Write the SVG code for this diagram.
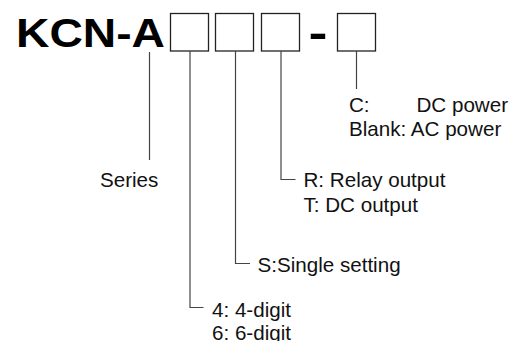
<svg xmlns="http://www.w3.org/2000/svg" width="513" height="341" viewBox="0 0 513 341">
<style>
.t{font-family:"Liberation Sans",Arial,sans-serif;font-size:20.6px;fill:#111}
.b{font-family:"Liberation Sans",Arial,sans-serif;font-weight:bold;fill:#000}
.box{fill:#fff;stroke:#222;stroke-width:1.3}
.ln{fill:none;stroke:#444;stroke-width:1.2}
</style>
<rect width="513" height="341" fill="#fff"/>
<g id="title">
<text class="b" x="16" y="46.7" font-size="41" textLength="149" lengthAdjust="spacingAndGlyphs">KCN-A</text>
<text class="b" x="308.5" y="47.5" font-size="44" textLength="19" lengthAdjust="spacingAndGlyphs">-</text>
</g>
<g id="box1"><rect class="box" x="170.5" y="13.5" width="38" height="37.5"/></g>
<g id="box2"><rect class="box" x="215.5" y="13.5" width="38" height="37.5"/></g>
<g id="box3"><rect class="box" x="261.5" y="13.5" width="38" height="37.5"/></g>
<g id="box4"><rect class="box" x="337.5" y="13.5" width="38" height="37.5"/></g>
<g id="connectors">
<path class="ln" d="M149.5 52V160"/>
<path class="ln" d="M190 51V307.5H203.5"/>
<path class="ln" d="M235.5 51V263.5H250"/>
<path class="ln" d="M281 51V179.5H295.5"/>
<path class="ln" d="M356.5 51V89"/>
</g>
<g id="series"><text class="t" x="100" y="187.3">Series</text></g>
<g id="output">
<text class="t" x="303.5" y="187.3">R: Relay output</text>
<text class="t" x="303.5" y="212">T: DC output</text>
</g>
<g id="setting"><text class="t" x="257.5" y="271.7">S:Single setting</text></g>
<g id="digits">
<text class="t" x="212" y="316.7">4: 4-digit</text>
<text class="t" x="212" y="340">6: 6-digit</text>
</g>
<g id="power">
<text class="t" x="349" y="111.5">C:</text>
<text class="t" x="416.5" y="111.5">DC power</text>
<text class="t" x="349" y="136">Blank: AC power</text>
</g>
</svg>
